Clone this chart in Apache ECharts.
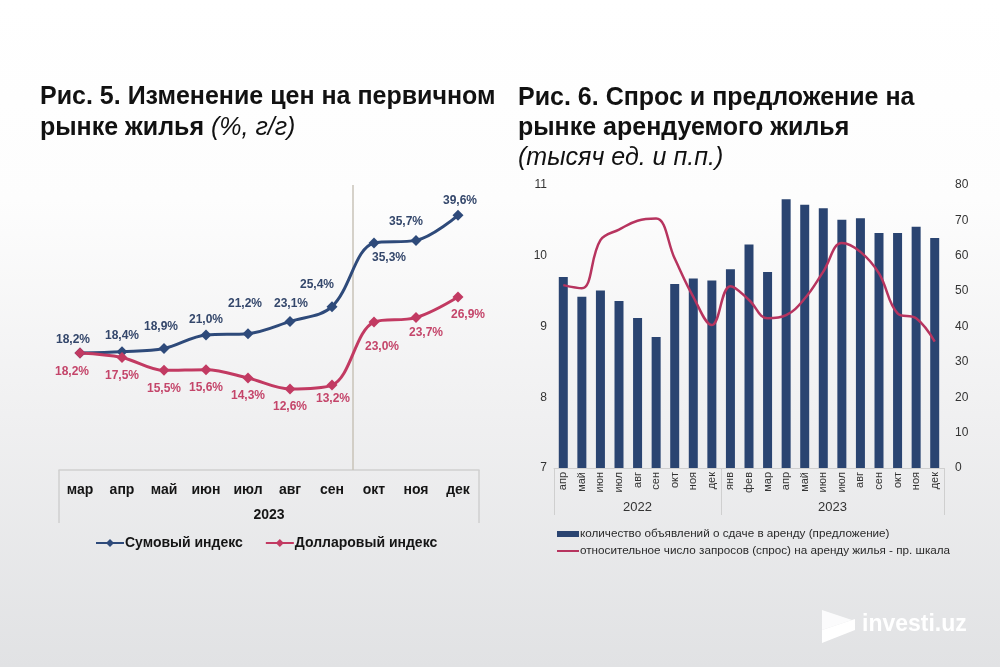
<!DOCTYPE html>
<html>
<head>
<meta charset="utf-8">
<script src="https://cdn.jsdelivr.net/npm/echarts@6/dist/echarts.min.js"></script>
<style>
html,body{margin:0;padding:0;width:1000px;height:667px;overflow:hidden;}
#c{width:1000px;height:667px;}
</style>
</head>
<body>
<div id="c"></div>
<script>
// ---- data: figure 5 ----
var months5 = ['мар','апр','май','июн','июл','авг','сен','окт','ноя','дек'];
var year5 = ['2023'];
var sumIndex = [18.2, 18.4, 18.9, 21.0, 21.2, 23.1, 25.4, 35.3, 35.7, 39.6];
var dollarIndex = [18.2, 17.5, 15.5, 15.6, 14.3, 12.6, 13.2, 23.0, 23.7, 26.9];
var seriesNames5 = ['Сумовый индекс', 'Долларовый индекс'];

// ---- data: figure 6 ----
var months6 = ['апр','май','июн','июл','авг','сен','окт','ноя','дек',
               'янв','фев','мар','апр','май','июн','июл','авг','сен','окт','ноя','дек'];
var years6 = ['2022', '2023'];
var monthsPerYear6 = [9, 12];
var supply = [9.70, 9.42, 9.51, 9.36, 9.12, 8.85, 9.60, 9.68, 9.65,
              9.81, 10.16, 9.77, 10.80, 10.72, 10.67, 10.51, 10.53, 10.32, 10.32, 10.41, 10.25];
var demand = [51.7, 50.8, 64.4, 67.4, 69.9, 70.5, 59.2, 48.4, 40.4,
              51.4, 47.5, 42.3, 43.2, 47.9, 55.5, 63.6, 61.1, 55.0, 43.7, 42.3, 35.7];
var seriesNames6 = ['количество объявлений о сдаче в аренду (предложение)',
                    'относительное число запросов (спрос) на аренду жилья - пр. шкала'];

// ---- styling ----
var FONT = '"Liberation Sans", Arial, sans-serif';
var NAVY = '#2e4a7a';
var RED = '#c23a62';
var BAR = '#2a4471';
var LINE6 = '#b7345f';

// label offsets relative to point (style only)
var sumOff = [[-7,-13],[0,-16],[-3,-22],[0,-15],[-3,-30],[1,-18],[-15,-22],[15,15],[-10,-19],[2,-15]];
var dolOff = [[-8,19],[0,18],[0,18],[0,18],[0,18],[0,18],[1,14],[8,25],[10,15],[10,18]];

function fmtPct(v){ return v.toFixed(1).replace('.', ',') + '%'; }

// year boundaries for fig 6
var yearBounds = [0];
monthsPerYear6.forEach(function(n){ yearBounds.push(yearBounds[yearBounds.length-1] + n); });
var yearCenters = years6.map(function(y,i){ return (yearBounds[i] + yearBounds[i+1]) / 2; });
var total6 = yearBounds[yearBounds.length-1];

var chart = echarts.init(document.getElementById('c'), null, {renderer:'canvas'});

function titleRich(lh) {
  return {
    b: {fontSize: 25, fontWeight: 700, fontStyle: 'normal', color: '#111', lineHeight: lh, fontFamily: FONT},
    i: {fontSize: 25, fontWeight: 400, fontStyle: 'italic', color: '#111', lineHeight: lh, fontFamily: FONT}
  };
}

var option = {
  animation: false,
  backgroundColor: {
    type: 'linear', x: 0, y: 0, x2: 0, y2: 1,
    colorStops: [
      {offset: 0, color: '#ffffff'},
      {offset: 0.3, color: '#fdfdfd'},
      {offset: 0.62, color: '#f0f0f1'},
      {offset: 1, color: '#e1e2e4'}
    ]
  },
  textStyle: {fontFamily: FONT},
  title: [
    {
      left: 35, top: 77,
      text: '{b|Рис. 5. Изменение цен на первичном}\n{b|рынке жилья }{i|(%, г/г)}',
      textStyle: {fontWeight: 700, fontSize: 25, fontFamily: FONT, rich: titleRich(31)}
    },
    {
      left: 513, top: 78,
      text: '{b|Рис. 6. Спрос и предложение на}\n{b|рынке арендуемого жилья}\n{i|(тысяч ед. и п.п.)}',
      textStyle: {fontWeight: 700, fontSize: 25, fontFamily: FONT, rich: titleRich(30)}
    }
  ],
  legend: [
    {
      data: seriesNames5,
      left: 90, top: 531,
      itemWidth: 28, itemHeight: 10, itemGap: 22,
      textStyle: {fontSize: 14, fontWeight: 'bold', color: '#151515', fontFamily: FONT, padding: [0,0,0,-4]}
    },
    {
      data: [
        {name: seriesNames6[0], icon: 'rect'},
        {name: seriesNames6[1], itemStyle: {opacity: 0}}
      ],
      orient: 'vertical',
      left: 551, top: 523,
      itemWidth: 22, itemHeight: 6, itemGap: 5,
      textStyle: {fontSize: 11.7, color: '#2a2a2a', fontFamily: FONT, padding: [0,0,0,-4]}
    }
  ],
  grid: [
    {left: 59, top: 187, width: 420, height: 283},
    {left: 554, top: 185, width: 390, height: 283}
  ],
  xAxis: [
    { // 0: months fig5
      type: 'category', gridIndex: 0, data: months5, boundaryGap: true,
      axisLine: {lineStyle: {color: '#cfcfcf', width: 1.5}},
      axisTick: {show: false},
      axisLabel: {fontSize: 14, fontWeight: 'bold', color: '#151515', margin: 13, fontFamily: FONT},
      splitLine: {show: false}
    },
    { // 1: year fig5 (box)
      type: 'value', gridIndex: 0, min: 0, max: months5.length, position: 'bottom', offset: 53,
      axisLine: {show: false},
      axisTick: {show: true, inside: true, length: 53, customValues: [0, months5.length], lineStyle: {color: '#cfcfcf', width: 1.5}},
      axisLabel: {show: true, inside: true, margin: 1, customValues: [months5.length / 2],
                  formatter: function(){ return year5[0]; },
                  fontSize: 14, fontWeight: 'bold', color: '#151515', fontFamily: FONT},
      splitLine: {show: false}
    },
    { // 2: separator line fig5
      type: 'value', gridIndex: 0, min: 0, max: months5.length, position: 'bottom',
      axisLine: {show: false},
      axisTick: {show: true, inside: true, length: 285, customValues: [months5.indexOf('окт')], lineStyle: {color: '#c9c3b9', width: 1.5}},
      axisLabel: {show: false},
      splitLine: {show: false}
    },
    { // 3: months fig6
      type: 'category', gridIndex: 1, data: months6, boundaryGap: true,
      axisLine: {lineStyle: {color: '#cfcfcf', width: 1}},
      axisTick: {show: false},
      axisLabel: {rotate: 90, fontSize: 11, color: '#333', margin: 4, interval: 0, fontFamily: FONT},
      splitLine: {show: false}
    },
    { // 4: years fig6
      type: 'value', gridIndex: 1, min: 0, max: total6, position: 'bottom', offset: 47,
      axisLine: {show: false},
      axisTick: {show: true, inside: true, length: 47, customValues: yearBounds, lineStyle: {color: '#cfcfcf', width: 1}},
      axisLabel: {show: true, inside: true, margin: 1, customValues: yearCenters,
                  formatter: function(v){ var i = yearCenters.indexOf(v); return i >= 0 ? years6[i] : ''; },
                  fontSize: 13, color: '#333', fontFamily: FONT},
      splitLine: {show: false}
    }
  ],
  yAxis: [
    {type: 'value', gridIndex: 0, min: 0, max: 44, show: false},
    {
      type: 'value', gridIndex: 1, min: 7, max: 11, interval: 1, position: 'left',
      axisLine: {show: false}, axisTick: {show: false}, splitLine: {show: false},
      axisLabel: {fontSize: 12, color: '#333', margin: 7, fontFamily: FONT}
    },
    {
      type: 'value', gridIndex: 1, min: 0, max: 80, interval: 10, position: 'right',
      axisLine: {show: false}, axisTick: {show: false}, splitLine: {show: false},
      axisLabel: {fontSize: 12, color: '#333', margin: 11, fontFamily: FONT}
    }
  ],
  series: [
    {
      name: seriesNames5[0], type: 'line', xAxisIndex: 0, yAxisIndex: 0,
      data: sumIndex.map(function(v, i){ return {value: v, label: {offset: sumOff[i]}}; }),
      smooth: 0.35, symbol: 'diamond', symbolSize: 11,
      lineStyle: {color: NAVY, width: 3}, itemStyle: {color: NAVY},
      label: {show: true, position: 'inside', formatter: function(p){ return fmtPct(p.value); },
              fontSize: 12, fontWeight: 'bold', color: '#34476b', fontFamily: FONT},
      z: 3
    },
    {
      name: seriesNames5[1], type: 'line', xAxisIndex: 0, yAxisIndex: 0,
      data: dollarIndex.map(function(v, i){ return {value: v, label: {offset: dolOff[i]}}; }),
      smooth: 0.35, symbol: 'diamond', symbolSize: 11,
      lineStyle: {color: RED, width: 3}, itemStyle: {color: RED},
      label: {show: true, position: 'inside', formatter: function(p){ return fmtPct(p.value); },
              fontSize: 12, fontWeight: 'bold', color: '#c4456a', fontFamily: FONT},
      z: 3
    },
    {
      name: seriesNames6[0], type: 'bar', xAxisIndex: 3, yAxisIndex: 1,
      data: supply, barWidth: 9,
      itemStyle: {color: BAR}
    },
    {
      name: seriesNames6[1], type: 'line', xAxisIndex: 3, yAxisIndex: 2,
      data: demand, smooth: 0.4, symbol: 'none', showSymbol: false,
      lineStyle: {color: LINE6, width: 2.5}, itemStyle: {color: LINE6},
      z: 4
    }
  ],
  graphic: [
    {
      type: 'group', left: 822, top: 610, silent: true,
      children: [
        {type: 'polygon', shape: {points: [[0,2],[30,12],[0,22]]}, style: {fill: 'rgba(255,255,255,0.85)'}},
        {type: 'polygon', shape: {points: [[0,22],[33,11],[33,22],[0,35]]}, style: {fill: '#ffffff'}},
        {type: 'text', x: 40, y: 5, style: {text: 'investi.uz', fill: '#ffffff', font: 'bold 23px ' + FONT}}
      ]
    }
  ]
};

chart.setOption(option);
</script>
</body>
</html>
